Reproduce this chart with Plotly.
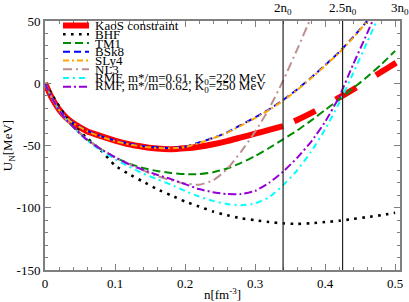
import plotly.graph_objects as go

# ---------------- data ----------------
n0 = 0.17
n_grid = [0, 0.01, 0.02, 0.03, 0.04, 0.06, 0.08, 0.10, 0.12, 0.14, 0.16, 0.18,
          0.20, 0.22, 0.24, 0.26, 0.28, 0.30, 0.32, 0.34, 0.36, 0.38, 0.40,
          0.42, 0.44, 0.46, 0.48, 0.50]

n_kaos = [0, 0.01, 0.02, 0.03, 0.04, 0.06, 0.08, 0.10, 0.12, 0.14, 0.16, 0.18,
          0.20, 0.22, 0.24, 0.26, 0.28, 0.30, 0.32, 0.34]
u_kaos = [0, -12, -21, -27.5, -32, -38.5, -42.5, -46, -49, -51, -52.5, -53,
          -52.3, -51, -49, -46.5, -43.5, -40.5, -37.5, -34.5]
n_kaos_ext = [0.34, 0.36, 0.38, 0.40, 0.42, 0.44, 0.46, 0.48, 0.50, 0.52]
u_kaos_ext = [-34.5, -29.5, -24, -18, -11.5, -5, 2, 9, 16, 23]

u_bhf = [0, -9, -18.5, -27, -33.5, -44, -54, -66, -73, -79, -85, -90, -95,
         -99, -103, -106, -108.5, -110, -111.5, -112.5, -113, -112.5, -111.5,
         -110.5, -109, -107.5, -106, -104]

u_tm1 = [0, -12, -21.5, -29, -35, -45, -53, -59.5, -64.5, -68, -70.5, -72,
         -73, -73, -71.5, -68.5, -64, -58.5, -52, -45, -38, -30, -21.5, -13,
         -4, 5, 15, 26]

n_skyrme = [0, 0.01, 0.02, 0.03, 0.04, 0.06, 0.08, 0.10, 0.12, 0.14, 0.16,
            0.18, 0.20, 0.22, 0.24, 0.26, 0.28, 0.30, 0.32, 0.34, 0.36, 0.38,
            0.40, 0.42, 0.44, 0.46, 0.47]
u_bsk8 = [0, -12, -21, -27, -31.5, -38, -42.5, -46, -48.5, -50.5, -51.5, -52,
          -51, -47.5, -44, -39.5, -33.5, -27.5, -21, -13.5, -5, 4.5, 14.5, 25,
          37, 50, 57]
u_sly4 = [0, -12, -21.5, -27.5, -32, -38.5, -43, -46.5, -49, -51, -52, -52.3,
          -51.3, -48, -44.3, -39.8, -34, -28, -21.5, -14, -5.5, 4, 14, 24.5,
          36.5, 49.5, 56.5]

n_nl3 = [0, 0.01, 0.02, 0.03, 0.04, 0.06, 0.08, 0.10, 0.12, 0.14, 0.16, 0.18,
         0.20, 0.22, 0.24, 0.26, 0.28, 0.30, 0.32, 0.34, 0.36, 0.38, 0.39]
u_nl3 = [0, -12, -21.5, -29, -35, -45, -53, -59.5, -65, -70, -74.5, -78,
         -80.5, -81.5, -78, -69, -55, -39, -20.5, 2, 27, 53, 66]

n_rmf = [0, 0.01, 0.02, 0.03, 0.04, 0.06, 0.08, 0.10, 0.12, 0.14, 0.16, 0.18,
         0.20, 0.22, 0.24, 0.26, 0.28, 0.30, 0.32, 0.34, 0.36, 0.38, 0.40,
         0.42, 0.44, 0.46, 0.48]
u_rmf1 = [0, -12, -21.5, -29, -35, -46, -54, -61, -67, -72.5, -77, -81.5,
          -86.5, -91, -94.5, -97, -98, -96.5, -91.5, -82, -70, -55, -37, -16,
          8, 33, 58]
u_rmf2 = [0, -12, -21.5, -29, -35, -45.5, -53, -59.5, -65, -69.5, -73.5, -77,
          -81, -85, -87.5, -89, -89, -86.5, -80, -71, -60, -47, -31, -11, 15,
          40, 66]

names = ["KaoS constraint", "BHF", "TM1", "BSk8", "SLy4", "NL3",
         "RMF, m*/m=0.61, K<sub>0</sub>=220 MeV",
         "RMF, m*/m=0.62, K<sub>0</sub>=250 MeV"]

x_ticks = [0, 0.1, 0.2, 0.3, 0.4, 0.5]
x_ticktext = ["0", "0.1", "0.2", "0.3", "0.4", "0.5"]
y_ticks = [-150, -100, -50, 0, 50]
y_ticktext = ["-150", "-100", "-50", "0", "50"]
density_marks = [2 * n0, 2.5 * n0, 3 * n0]
density_labels = ["2n<sub>0</sub>", "2.5n<sub>0</sub>", "3n<sub>0</sub>"]

# ---------------- styles ----------------
FONT = "Liberation Serif"
styles = [
    dict(color="#ff0000", width=6, dash="solid"),
    dict(color="#000000", width=2.6, dash="2.6px,5.4px"),
    dict(color="#008b00", width=2, dash="8px,4px"),
    dict(color="#0000ff", width=2, dash="7px,4px"),
    dict(color="#ffa500", width=2, dash="6px,3px,2px,3px"),
    dict(color="#bc8f8f", width=2, dash="9px,4px,2px,4px"),
    dict(color="#00ffff", width=2, dash="6px,4px,2px,4px"),
    dict(color="#9400d3", width=2, dash="8px,3px,2px,3px"),
]
series = [
    (n_kaos, u_kaos),
    (n_grid, u_bhf),
    (n_grid, u_tm1),
    (n_skyrme, u_bsk8),
    (n_skyrme, u_sly4),
    (n_nl3, u_nl3),
    (n_rmf, u_rmf1),
    (n_rmf, u_rmf2),
]

fig = go.Figure()
for i, ((xs, ys), st, nm) in enumerate(zip(series, styles, names)):
    fig.add_trace(go.Scatter(x=xs, y=ys, mode="lines", name=nm,
                             line=dict(color=st["color"], width=st["width"],
                                       dash=st["dash"], shape="spline",
                                       smoothing=0.5),
                             showlegend=False))
    if i == 0:
        fig.add_trace(go.Scatter(x=n_kaos_ext, y=u_kaos_ext, mode="lines",
                                 name=nm + " (extrapolation)",
                                 line=dict(color="#ff0000", width=6,
                                           dash="0px,12px,24px,11px",
                                           shape="spline", smoothing=0.5),
                                 showlegend=False))

# vertical density marks
for xv, lab in zip(density_marks, density_labels):
    if xv < 0.5:
        fig.add_shape(type="line", xref="x", yref="paper", x0=xv, x1=xv,
                      y0=0, y1=1, line=dict(color="#222222", width=1.2),
                      layer="above")
    fig.add_annotation(x=xv if xv < 0.5 else 0.507, y=1.05, xref="x",
                       yref="paper", text=lab, showarrow=False,
                       xanchor="center", yanchor="middle",
                       font=dict(family=FONT, size=13, color="black"))

# custom compact legend (paper coordinates)
PL, PR, PT, PB = 45, 400, 21, 270
def px_to_paper(px, py):
    return (px - PL) / (PR - PL), (PB - py) / (PB - PT)

for i, (st, nm) in enumerate(zip(styles, names)):
    py = 25.5 + 8.75 * i
    x0, y0 = px_to_paper(63, py)
    x1, _ = px_to_paper(89, py)
    xt, _ = px_to_paper(93, py)
    fig.add_shape(type="line", xref="paper", yref="paper", x0=x0, x1=x1,
                  y0=y0, y1=y0,
                  line=dict(color=st["color"], width=st["width"],
                            dash=st["dash"]))
    fig.add_annotation(x=xt, y=y0, xref="paper", yref="paper", text=nm,
                       showarrow=False, xanchor="left", yanchor="middle",
                       font=dict(family=FONT, size=13, color="black"))

axis_common = dict(showline=True, linecolor="#7f7f7f", linewidth=2,
                   mirror="allticks", ticks="inside", tickcolor="#7f7f7f",
                   tickwidth=1.3, ticklen=6, showgrid=False, zeroline=False,
                   tickfont=dict(family=FONT, size=13, color="black"))

fig.update_xaxes(range=[0, 0.507], tickvals=x_ticks, ticktext=x_ticktext,
                 minor=dict(dtick=0.02, ticks="inside", ticklen=3,
                            tickcolor="#7f7f7f", tickwidth=1.3,
                            showgrid=False),
                 title=dict(text="n[fm<sup>-3</sup>]", standoff=10,
                            font=dict(family=FONT, size=13, color="black")),
                 **axis_common)
fig.update_yaxes(range=[-150, 50], tickvals=y_ticks, ticktext=y_ticktext,
                 minor=dict(dtick=10, ticks="inside", ticklen=3,
                            tickcolor="#7f7f7f", tickwidth=1.3,
                            showgrid=False),
                 title=dict(text="U<sub>N</sub>[MeV]", standoff=3,
                            font=dict(family=FONT, size=13, color="black")),
                 **axis_common)

fig.update_layout(width=409, height=302,
                  margin=dict(l=PL, r=409 - PR, t=PT, b=302 - PB,
                              autoexpand=False),
                  plot_bgcolor="white", paper_bgcolor="white",
                  showlegend=False,
                  font=dict(family=FONT, size=13, color="black"))

fig.write_html("out.html",
               config={"displayModeBar": False},
               post_script="document.body.style.margin='0';"
                           "document.body.style.padding='0';")
